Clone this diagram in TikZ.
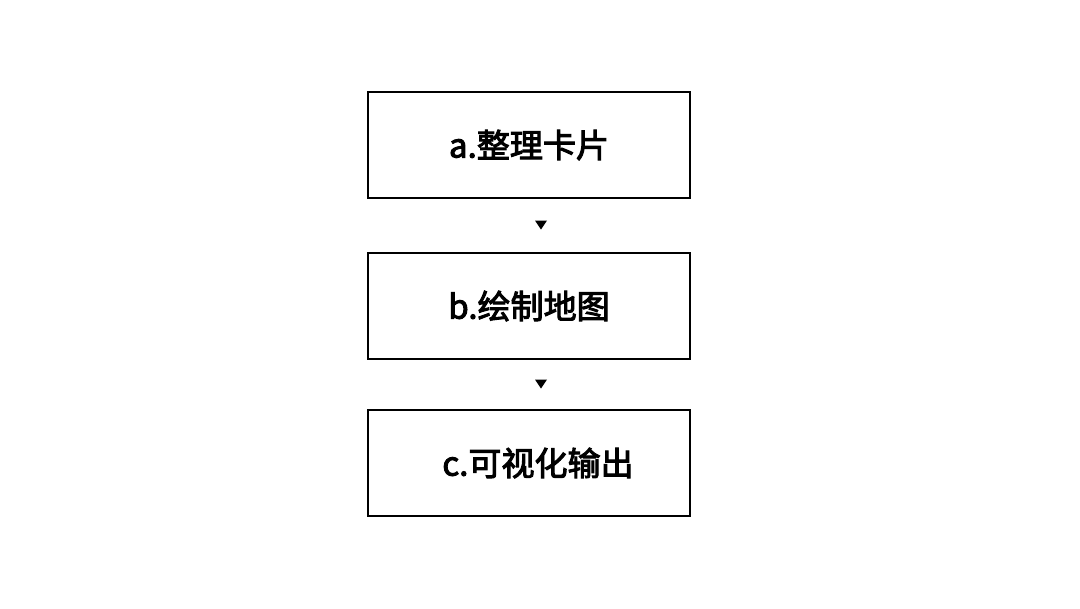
\documentclass[tikz,border=0pt]{standalone}
\usepackage{fontspec}
\newfontfamily\cjk[FakeBold=3]{Noto Sans CJK SC}
\usetikzlibrary{calc,positioning}

\tikzset{
  stepbox/.style={draw, line width=2pt, minimum width=8.05cm, minimum height=2.65cm,
    inner sep=0pt, font=\cjk\fontsize{23.5}{28}\selectfont},
  tip/.style={fill=black}
}

\begin{document}
\begin{tikzpicture}[x=0.025cm, y=-0.025cm]
    \useasboundingbox (0,0) rectangle (1080,608);

    % boxes
    \node[stepbox] (a) at (529,145) {a.整理卡片};
    \node[stepbox] (b) at (529,306) {b.绘制地图};
    \node[stepbox] (c) at (529,463) {\hspace*{0.45cm}c.可视化输出};

    % arrow heads between boxes
    \coordinate (ab) at ($(a.south)!0.5!(b.north)$);
    \coordinate (bc) at ($(b.south)!0.5!(c.north)$);
    \fill[tip] ($(ab)+(6,-5)$) -- ++(12,0) -- ++(-6,9) -- cycle;
    \fill[tip] ($(bc)+(6,-5)$) -- ++(12,0) -- ++(-6,9) -- cycle;
\end{tikzpicture}
\end{document}
